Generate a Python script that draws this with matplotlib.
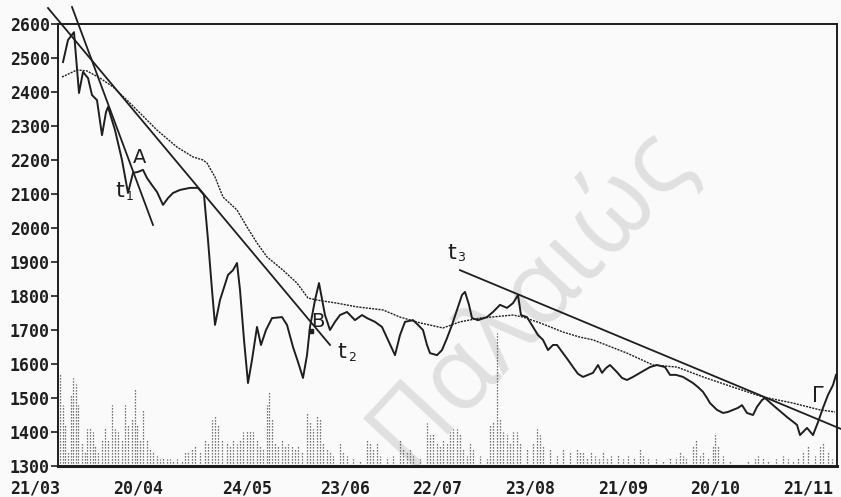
import matplotlib
matplotlib.use("Agg")
import matplotlib.pyplot as plt
import matplotlib.transforms as mtransforms

# time axis in sessions from 21/03 (approx), values in index points
tick_pos = [-23, 80, 189, 287, 379, 472, 565, 657, 750]
tick_lab = ["21/03", "20/04", "24/05", "23/06", "22/07", "23/08", "21/09", "20/10", "21/11"]
y_ticks = [1300, 1400, 1500, 1600, 1700, 1800, 1900, 2000, 2100, 2200, 2300, 2400, 2500, 2600]

price_t = [5, 10, 16, 21, 25, 30, 34, 39, 44, 48, 50, 57, 64, 70, 75, 80, 85, 89, 94, 99,
           105, 110, 115, 122, 132, 140, 146, 150, 154, 157, 162, 170, 175, 179, 182, 186, 190, 194, 199, 203,
           208, 214, 224, 229, 235, 240, 245, 249, 252, 257, 261, 267, 272, 277, 282, 289, 297, 304, 309, 317,
           324, 330, 337, 342, 347, 355, 360, 365, 369, 372, 379, 384, 389, 394, 399, 404, 407, 411, 414, 420,
           429, 435, 442, 449, 455, 460, 463, 469, 475, 480, 485, 490, 495, 499, 505, 510, 515, 520, 525, 530,
           535, 540, 544, 548, 552, 559, 564, 569, 575, 582, 592, 599, 607, 612, 618, 625, 630, 635, 640, 645,
           649, 652, 659, 665, 670, 675, 680, 684, 689, 695, 699, 704, 707, 715, 729, 739, 742, 749, 755, 760,
           765, 770, 775, 778]
price_v = [2488, 2553, 2576, 2397, 2459, 2441, 2391, 2376, 2273, 2341, 2356, 2288, 2200, 2103, 2162, 2165, 2171, 2147, 2126, 2106,
           2068, 2088, 2103, 2112, 2118, 2118, 2097, 1965, 1818, 1715, 1788, 1862, 1876, 1897, 1818, 1671, 1544, 1612, 1709, 1656,
           1700, 1735, 1738, 1715, 1650, 1606, 1559, 1626, 1709, 1788, 1838, 1744, 1700, 1724, 1744, 1753, 1729, 1744, 1735, 1724,
           1709, 1671, 1626, 1685, 1724, 1729, 1715, 1700, 1656, 1632, 1626, 1641, 1676, 1715, 1759, 1803, 1812, 1774, 1735, 1729,
           1738, 1753, 1774, 1765, 1779, 1803, 1744, 1738, 1709, 1685, 1671, 1641, 1656, 1656, 1632, 1612, 1591, 1571, 1562, 1568,
           1574, 1597, 1574, 1588, 1597, 1576, 1559, 1553, 1562, 1574, 1591, 1597, 1591, 1568, 1568, 1562, 1553, 1544, 1532, 1518,
           1500, 1485, 1465, 1456, 1459, 1465, 1471, 1479, 1456, 1450, 1474, 1494, 1500, 1479, 1444, 1421, 1391, 1412, 1391, 1429,
           1471, 1509, 1538, 1568]

ma_t = [4, 19, 29, 42, 55, 69, 82, 99, 119, 135, 145, 149, 157, 165, 179, 189, 199, 209, 225, 239,
        250, 259, 279, 299, 325, 342, 362, 385, 402, 422, 455, 465, 482, 505, 522, 535, 569, 595, 619, 645,
        675, 705, 735, 762, 777]
ma_v = [2444, 2465, 2462, 2441, 2415, 2376, 2338, 2288, 2238, 2209, 2200, 2191, 2150, 2091, 2053, 2003, 1956, 1915, 1876, 1838,
        1794, 1788, 1779, 1768, 1759, 1738, 1721, 1706, 1724, 1735, 1744, 1738, 1721, 1694, 1679, 1671, 1632, 1597, 1591, 1562,
        1532, 1503, 1485, 1465, 1459]

vol_t = [2, 5, 7, 10, 13, 15, 18, 20, 24, 27, 29, 32, 35, 37, 40, 44, 47, 50, 54, 57,
         60, 64, 67, 70, 74, 77, 79, 82, 85, 89, 92, 95, 99, 102, 105, 109, 112, 115, 119, 124,
         127, 130, 134, 137, 142, 147, 150, 154, 157, 160, 164, 169, 172, 175, 179, 182, 185, 189, 192, 195,
         199, 202, 205, 209, 211, 214, 217, 220, 224, 227, 230, 234, 237, 240, 244, 249, 252, 255, 259, 262,
         265, 269, 272, 275, 282, 285, 289, 295, 302, 309, 312, 315, 319, 322, 329, 335, 342, 345, 349, 352,
         355, 362, 369, 372, 375, 379, 382, 385, 389, 392, 395, 399, 402, 405, 409, 412, 415, 422, 429, 432,
         435, 439, 442, 445, 449, 452, 455, 459, 462, 469, 475, 479, 482, 485, 492, 499, 505, 512, 519, 522,
         525, 529, 533, 537, 541, 545, 549, 553, 560, 565, 570, 576, 582, 585, 590, 598, 605, 612, 618, 622,
         625, 628, 635, 638, 642, 645, 650, 655, 657, 660, 665, 672, 680, 690, 697, 700, 705, 710, 718, 725,
         730, 735, 740, 745, 750, 757, 762, 765, 770, 774]
vol_v = [270, 180, 120, 40, 210, 260, 240, 180, 70, 40, 110, 115, 100, 60, 40, 80, 115, 80, 180, 110,
         100, 80, 180, 120, 140, 230, 120, 80, 165, 80, 50, 40, 30, 20, 25, 20, 20, 15, 20, 15,
         40, 45, 50, 60, 40, 80, 70, 135, 150, 120, 80, 70, 60, 80, 65, 80, 100, 105, 105, 100,
         80, 60, 50, 180, 220, 140, 70, 60, 80, 60, 65, 60, 50, 60, 40, 160, 130, 110, 150, 140,
         70, 50, 40, 30, 70, 40, 30, 20, 15, 80, 70, 50, 70, 30, 20, 30, 80, 50, 40, 50,
         30, 20, 125, 90, 95, 70, 60, 80, 70, 100, 110, 110, 95, 50, 30, 70, 50, 30, 20, 120,
         130, 390, 140, 100, 90, 70, 100, 100, 70, 50, 70, 110, 90, 60, 50, 30, 50, 40, 50, 40,
         45, 25, 40, 30, 20, 40, 20, 30, 35, 20, 30, 25, 50, 30, 20, 20, 15, 25, 20, 40,
         30, 20, 60, 80, 30, 40, 25, 60, 90, 60, 30, 15, 10, 15, 20, 30, 25, 15, 20, 30,
         20, 15, 25, 40, 60, 30, 60, 70, 40, 20]

# trend lines (start / end)
t1_t, t1_v = [14, 95], [2650, 2009]
t2_t, t2_v = [-10, 272], [2647, 1656]
t3_t, t3_v = [402, 783], [1876, 1409]

ink = "#1e1e1e"
mono = "DejaVu Sans Mono"

fig = plt.figure(figsize=(8.41, 4.97), dpi=100, facecolor="#fafafa")
ax = fig.add_axes([58 / 841, 31 / 497, 779 / 841, 442 / 497])
ax.set_facecolor("#fafafa")

ax.text(472, 1800, "Παλαιώς", rotation=47, fontsize=74, color="#e0e0e0",
        ha="center", va="center", family="Open Sans", zorder=0)

base = 1300
ax.vlines(vol_t, base, [base + v for v in vol_v], colors="#4a4a4a", linewidth=0.9,
          linestyles=(0, (1, 1.4)), zorder=1)

ax.plot(ma_t, ma_v, color=ink, linewidth=1.0, linestyle=(0, (1.5, 0.8)), zorder=2)
ax.plot(price_t, price_v, color=ink, linewidth=1.4, zorder=3)
for tt, vv in [(t1_t, t1_v), (t2_t, t2_v), (t3_t, t3_v)]:
    ax.plot(tt, vv, color=ink, linewidth=1.3, clip_on=False, zorder=3)
ax.plot([253], [1697], marker="s", markersize=3, color=ink, zorder=4)

lab = dict(color=ink, family="DejaVu Sans", ha="center", va="center")
ax.text(82, 2206, "A", fontsize=14, **lab)
ax.text(260, 1726, "B", fontsize=14, **lab)
ax.text(760, 1506, "Γ", fontsize=15, **lab)
ax.text(62, 2109, "t", fontsize=16, **lab)
ax.text(72, 2092, "1", fontsize=9, **lab)
ax.text(284, 1635, "t", fontsize=16, **lab)
ax.text(294, 1618, "2", fontsize=9, **lab)
ax.text(394, 1926, "t", fontsize=16, **lab)
ax.text(403, 1914, "3", fontsize=9, **lab)

ax.set_xlim(0, 779)
ax.set_ylim(1300, 2600)
ax.set_yticks(y_ticks)
ax.set_yticklabels([str(v) for v in y_ticks], family=mono, fontweight="bold", fontsize=12, color=ink)
ax.tick_params(axis="y", direction="out", length=5, width=1.2, pad=1, color=ink)
ax.set_xticks([])

trans = mtransforms.blended_transform_factory(ax.transData, ax.transAxes)
for p, s in zip(tick_pos, tick_lab):
    ax.text(p, -0.05, s, transform=trans, ha="center", va="center", family=mono,
            fontweight="bold", fontsize=12, color=ink, clip_on=False)

for side in ["left", "right", "top"]:
    ax.spines[side].set_linewidth(1.4)
    ax.spines[side].set_color(ink)
ax.spines["bottom"].set_linewidth(2.2)
ax.spines["bottom"].set_color(ink)

fig.savefig("out.png", dpi=100, facecolor=fig.get_facecolor())
